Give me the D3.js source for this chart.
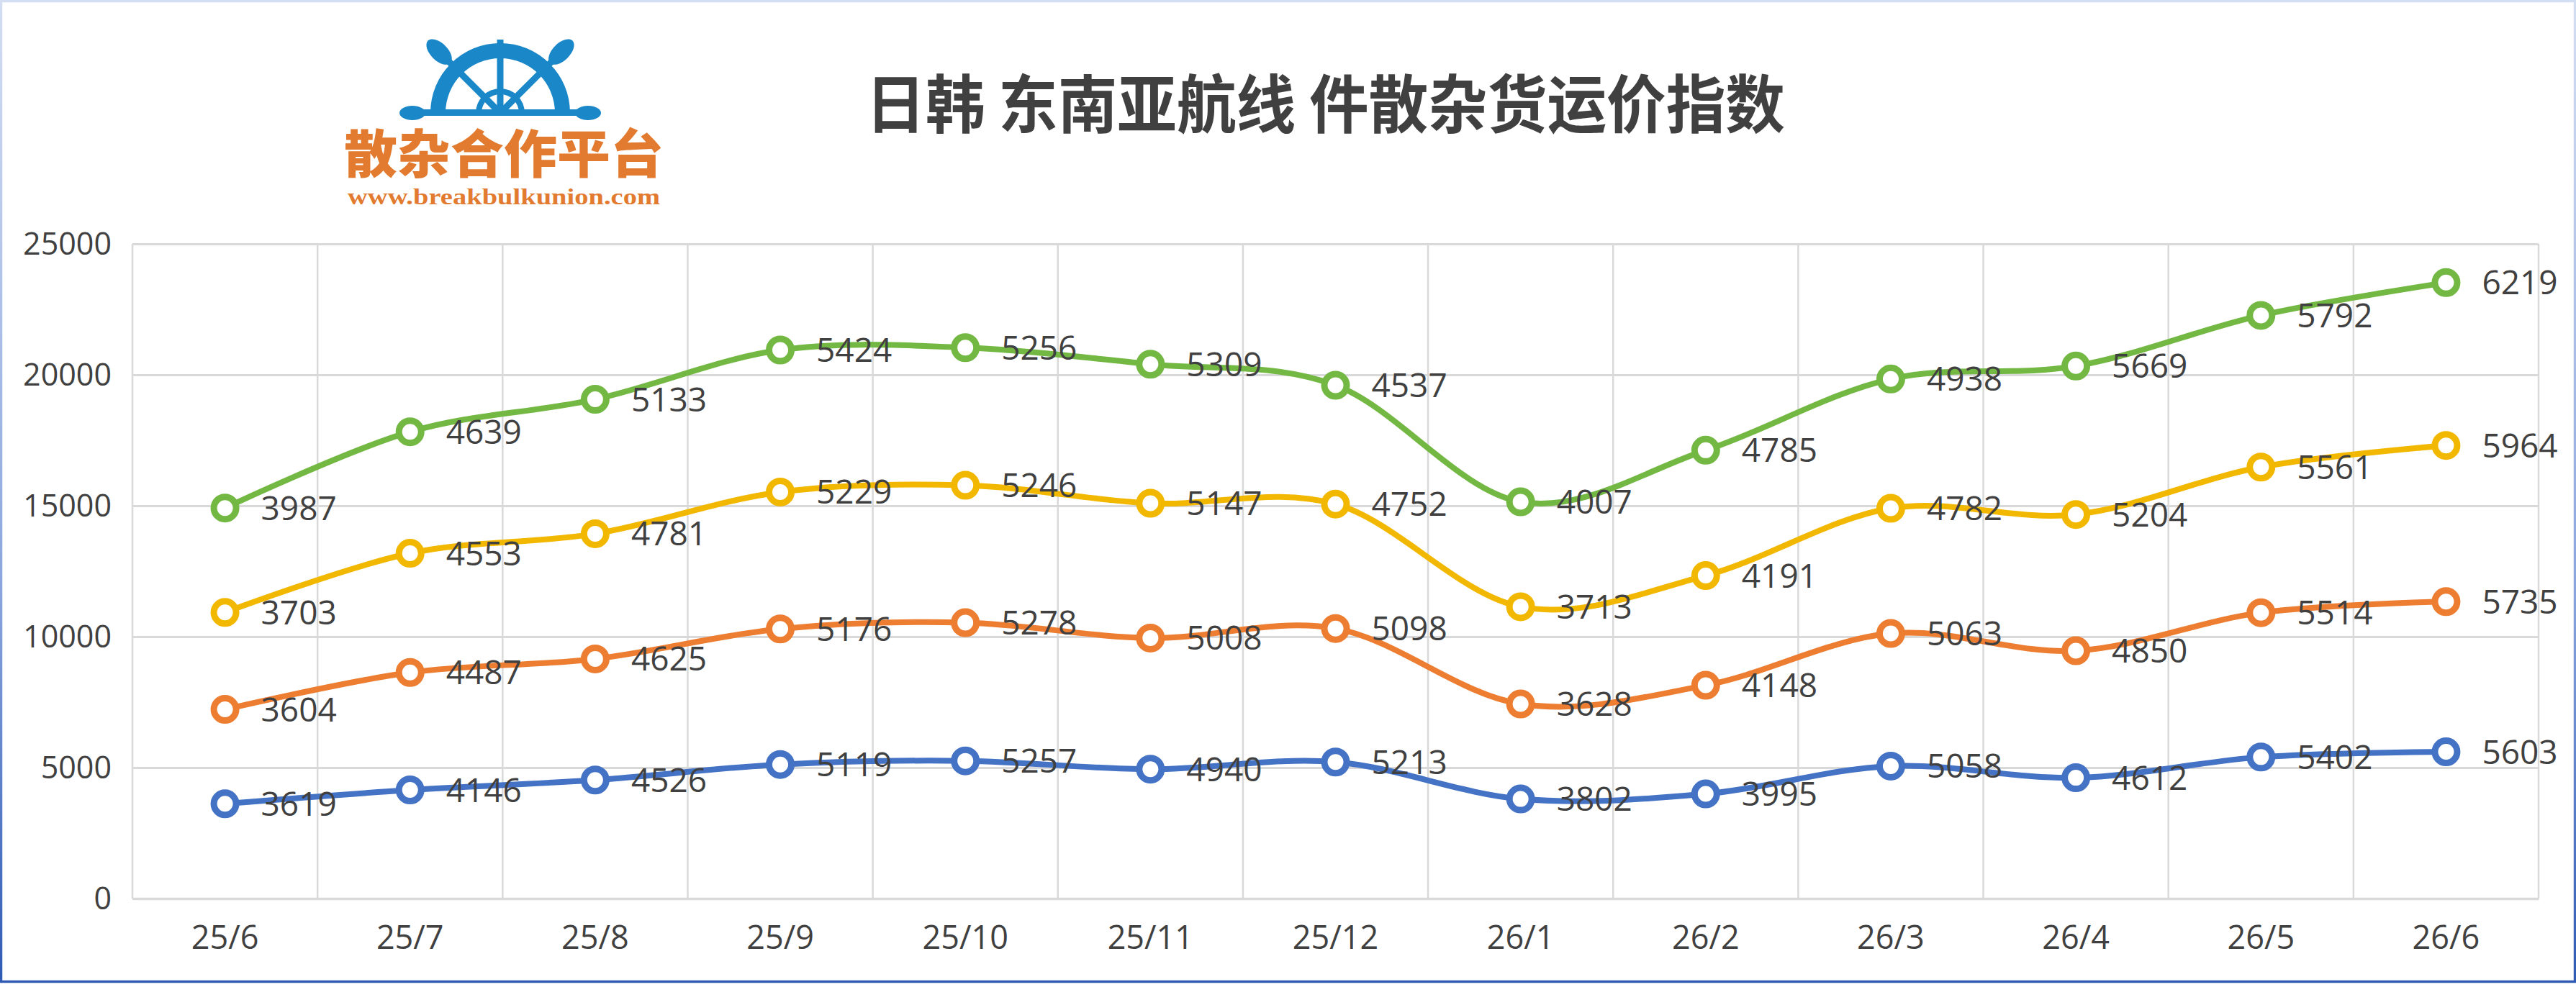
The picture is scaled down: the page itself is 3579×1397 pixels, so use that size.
<!DOCTYPE html>
<html>
<head>
<meta charset="utf-8">
<script src="https://cdn.jsdelivr.net/npm/d3@7"></script>
<style>
  body { margin: 0; background: #fff; }
  svg { display: block; }
</style>
</head>
<body>
<svg></svg>
<script>
// months on the category axis
const months = ["25/6", "25/7", "25/8", "25/9", "25/10", "25/11", "25/12", "26/1", "26/2", "26/3", "26/4", "26/5", "26/6"];
// the four stacked series, bottom to top
const seriesNames = ["系列1", "系列2", "系列3", "系列4"];
const series1 = [3619, 4146, 4526, 5119, 5257, 4940, 5213, 3802, 3995, 5058, 4612, 5402, 5603];
const series2 = [3604, 4487, 4625, 5176, 5278, 5008, 5098, 3628, 4148, 5063, 4850, 5514, 5735];
const series3 = [3703, 4553, 4781, 5229, 5246, 5147, 4752, 3713, 4191, 4782, 5204, 5561, 5964];
const series4 = [3987, 4639, 5133, 5424, 5256, 5309, 4537, 4007, 4785, 4938, 5669, 5792, 6219];
const yTicks = [0, 5000, 10000, 15000, 20000, 25000];
const colors = ["#4472C4", "#ED7D31", "#F2B800", "#72B843"];

const width = 3579, height = 1397;
const svg = d3.select("svg").attr("width", width).attr("height", height);

// frame round the chart
const defs = svg.append("defs");
const grad = defs.append("linearGradient")
  .attr("id", "frame").attr("x1", 0).attr("y1", 0).attr("x2", 0).attr("y2", 1);
grad.append("stop").attr("offset", "0%").attr("stop-color", "#d4def2");
grad.append("stop").attr("offset", "60%").attr("stop-color", "#8aa5de");
grad.append("stop").attr("offset", "100%").attr("stop-color", "#2f5bb4");
svg.append("rect")
  .attr("x", 1.5).attr("y", 1.5).attr("width", width - 3).attr("height", 1363)
  .attr("fill", "#fff").attr("stroke", "url(#frame)").attr("stroke-width", 3.5);

const rows = months.map((m, i) => ({
  month: m,
  [seriesNames[0]]: series1[i],
  [seriesNames[1]]: series2[i],
  [seriesNames[2]]: series3[i],
  [seriesNames[3]]: series4[i]
}));
const stacked = d3.stack().keys(seriesNames)(rows);

const x = d3.scaleBand().domain(months).range([184, 3527]).padding(0);
const y = d3.scaleLinear().domain([0, 25000]).range([1249, 339]);
const cx = m => x(m) + x.bandwidth() / 2;

// horizontal gridlines + y labels
const yAxis = svg.append("g")
  .attr("transform", "translate(184,0)")
  .call(d3.axisLeft(y).tickValues(yTicks).tickFormat(d3.format("d"))
    .tickSize(-(3527 - 184)).tickPadding(29));
yAxis.select(".domain").remove();
yAxis.selectAll("line").attr("stroke", "#d9d9d9").attr("stroke-width", 3);
yAxis.selectAll("text")
  .attr("dy", "0.33em")
  .style("font-family", "'Open Sans', 'Noto Sans', sans-serif")
  .style("font-size", "43px")
  .attr("fill", "#404040");

// vertical gridlines on category boundaries
const bounds = months.map(m => x(m)).concat([x.range()[1]]);
svg.append("g").selectAll("line")
  .data(bounds)
  .enter()
  .append("line")
  .attr("x1", d => d).attr("x2", d => d)
  .attr("y1", y(25000)).attr("y2", y(0))
  .attr("stroke", "#d9d9d9").attr("stroke-width", 2.5);

// category axis
const xAxis = svg.append("g")
  .attr("transform", "translate(0," + y(0) + ")")
  .call(d3.axisBottom(x).tickSize(0));
xAxis.select(".domain").attr("stroke", "#d9d9d9").attr("stroke-width", 3.5);
xAxis.selectAll("text")
  .attr("y", 70).attr("dy", null)
  .style("font-family", "'Open Sans', 'Noto Sans', sans-serif")
  .style("font-size", "45px")
  .attr("fill", "#404040");

// lines
const line = d3.line()
  .x(d => cx(d.data.month))
  .y(d => y(d[1]))
  .curve(d3.curveCardinal.tension(0));

svg.append("g").selectAll("path")
  .data(stacked)
  .enter()
  .append("path")
  .attr("d", line)
  .attr("fill", "none")
  .attr("stroke", (d, i) => colors[i])
  .attr("stroke-width", 8)
  .attr("stroke-linejoin", "round");

// markers
stacked.forEach((s, i) => {
  svg.append("g").selectAll("circle")
    .data(s)
    .enter()
    .append("circle")
    .attr("cx", d => cx(d.data.month))
    .attr("cy", d => y(d[1]))
    .attr("r", 15.5)
    .attr("fill", "#fff")
    .attr("stroke", colors[i])
    .attr("stroke-width", 9);
});

// value labels
stacked.forEach((s, i) => {
  svg.append("g").selectAll("text")
    .data(s)
    .enter()
    .append("text")
    .attr("x", d => cx(d.data.month) + 50)
    .attr("y", d => y(d[1]))
    .attr("dy", "0.36em")
    .style("font-family", "'Open Sans', 'Noto Sans', sans-serif")
    .style("font-size", "46px")
    .attr("fill", "#404040")
    .text(d => d[1] - d[0]);
});

// title
svg.append("text")
  .attr("x", 1203).attr("y", 177)
  .attr("textLength", 1277).attr("lengthAdjust", "spacingAndGlyphs")
  .style("font-family", "'Noto Sans CJK SC', sans-serif")
  .style("font-weight", 700)
  .style("font-size", "88px")
  .attr("fill", "#404040")
  .text("日韩 东南亚航线 件散杂货运价指数");

// logo: ship wheel
const blue = "#1a87c8";
const logo = svg.append("g").attr("transform", "translate(695,157)");
const clip = defs.append("clipPath").attr("id", "upper");
clip.append("rect").attr("x", -140).attr("y", -140).attr("width", 280).attr("height", 140);
const wheel = logo.append("g").attr("clip-path", "url(#upper)");
[-45, 45].forEach(a => {
  const rad = a * Math.PI / 180;
  wheel.append("line")
    .attr("x1", 0).attr("y1", 0)
    .attr("x2", 112 * Math.sin(rad)).attr("y2", -112 * Math.cos(rad))
    .attr("stroke", blue).attr("stroke-width", 9);
  logo.append("ellipse")
    .attr("rx", 12).attr("ry", 22)
    .attr("fill", blue)
    .attr("transform", "rotate(" + a + ") translate(0,-120)");
});
wheel.append("line")
  .attr("x1", 0).attr("y1", 0).attr("x2", 0).attr("y2", -102)
  .attr("stroke", blue).attr("stroke-width", 9);
wheel.append("path")
  .attr("d", d3.arc().innerRadius(76).outerRadius(97).startAngle(-Math.PI / 2).endAngle(Math.PI / 2)())
  .attr("fill", blue);
wheel.append("path")
  .attr("d", d3.arc().innerRadius(26).outerRadius(34).startAngle(-Math.PI / 2).endAngle(Math.PI / 2)())
  .attr("fill", blue);
logo.append("rect")
  .attr("x", -110).attr("y", -5).attr("width", 220).attr("height", 9)
  .attr("fill", blue);
[-1, 1].forEach(k => {
  logo.append("ellipse")
    .attr("cx", k * 122).attr("cy", 0)
    .attr("rx", 18).attr("ry", 10)
    .attr("fill", blue);
});

// logo text
svg.append("text")
  .attr("x", 478).attr("y", 240)
  .attr("textLength", 444).attr("lengthAdjust", "spacingAndGlyphs")
  .style("font-family", "'Noto Sans CJK SC', sans-serif")
  .style("font-weight", 900)
  .style("font-size", "72px")
  .attr("fill", "#e27b30")
  .text("散杂合作平台");
svg.append("text")
  .attr("x", 483).attr("y", 284)
  .attr("textLength", 434).attr("lengthAdjust", "spacingAndGlyphs")
  .style("font-family", "'Liberation Serif', serif")
  .style("font-weight", 700)
  .style("font-size", "32px")
  .attr("fill", "#e27b30")
  .text("www.breakbulkunion.com");
</script>
</body>
</html>
